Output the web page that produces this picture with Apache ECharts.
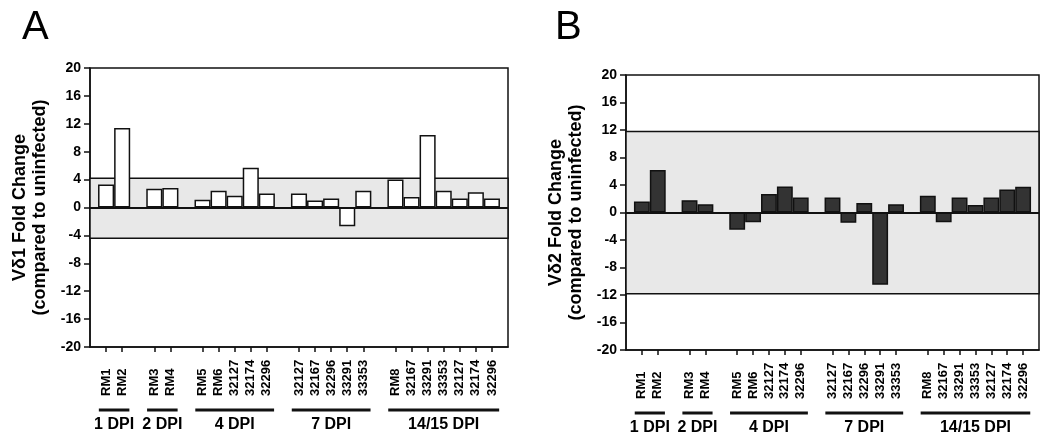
<!DOCTYPE html>
<html><head><meta charset="utf-8">
<script src="https://cdn.jsdelivr.net/npm/echarts@6/dist/echarts.min.js"></script>
<style>html,body{margin:0;padding:0;background:#fff}#c{width:1050px;height:441px}</style>
</head><body><div id="c"></div>
<script>
// ---- data ----
const groupLabels = ['1 DPI', '2 DPI', '4 DPI', '7 DPI', '14/15 DPI'];
const groupSamples = [
  ['RM1', 'RM2'],
  ['RM3', 'RM4'],
  ['RM5', 'RM6', '32127', '32174', '32296'],
  ['32127', '32167', '32296', '33291', '33353'],
  ['RM8', '32167', '33291', '33353', '32127', '32174', '32296']
];
const vd1Values = [3.3, 11.4, 2.7, 2.8, 1.1, 2.4, 1.7, 5.7, 2.0, 2.0, 1.0, 1.3, -2.7, 2.4, 4.0, 1.5, 10.4, 2.4, 1.3, 2.2, 1.3];
const vd2Values = [1.6, 6.2, 1.8, 1.2, -2.5, -1.4, 2.7, 3.8, 2.2, 2.2, -1.5, 1.4, -10.5, 1.2, 2.45, -1.4, 2.2, 1.1, 2.2, 3.35, 3.75];
const bandA = [-4.4, 4.2];
const bandB = [-11.8, 11.8];
const yMin = -20, yMax = 20, yStep = 4;
const panelLetters = ['A', 'B'];
const yNames = ['V\u03b41 Fold Change\n(compared to uninfected)', 'V\u03b42 Fold Change\n(compared to uninfected)'];

// ---- build categories (blank slots between groups and at both ends) ----
const categories = [''];
const groupRanges = [];
const slotIndex = [];
groupSamples.forEach((g, gi) => {
  if (gi > 0) categories.push('');
  const s = categories.length;
  g.forEach(n => { slotIndex.push(categories.length); categories.push(n); });
  groupRanges.push([s, categories.length - 1]);
});
categories.push('');
function pad(vals) {
  const d = categories.map(() => null);
  slotIndex.forEach((ci, k) => { d[ci] = vals[k]; });
  return d;
}

const FONT = '"Liberation Sans", Arial, Helvetica, sans-serif';
const INK = '#111';

function xAxis(g) {
  return {
    gridIndex: g, type: 'category', data: categories, boundaryGap: false, position: 'bottom',
    axisLine: { onZero: false, lineStyle: { color: INK, width: 1.5 } },
    axisTick: { show: true, interval: (i, v) => v !== '', length: 5, lineStyle: { color: INK, width: 1.5 } },
    axisLabel: { interval: 0, rotate: 90, align: 'left', margin: 49, fontSize: 13, fontWeight: 'bold', color: '#000', fontFamily: FONT },
    splitLine: { show: false }
  };
}
function yAxis(g) {
  return {
    gridIndex: g, type: 'value', min: yMin, max: yMax, interval: yStep,
    axisLine: { show: true, lineStyle: { color: INK, width: 1.5 } },
    axisTick: { show: true, length: 6, lineStyle: { color: INK, width: 1.5 } },
    axisLabel: { margin: 9, fontSize: 14, fontWeight: 'bold', color: '#000', fontFamily: FONT },
    splitLine: { show: false },
    name: yNames[g], nameLocation: 'middle', nameGap: 40,
    nameTextStyle: { fontSize: 18, fontWeight: 'bold', lineHeight: 20, color: '#000', fontFamily: FONT }
  };
}
function barSeries(g, vals, fill, band) {
  return {
    type: 'bar', xAxisIndex: g, yAxisIndex: g, data: pad(vals),
    barCategoryGap: '0%', barGap: '0%',
    itemStyle: { color: fill, borderColor: INK, borderWidth: 1.5 },
    emphasis: { disabled: true },
    markArea: {
      silent: true,
      itemStyle: { color: '#e8e8e8', borderColor: INK, borderWidth: 1.5 },
      label: { show: false },
      data: [[{ yAxis: band[0] }, { yAxis: band[1] }]]
    },
    markLine: {
      silent: true, symbol: ['none', 'none'],
      lineStyle: { color: INK, width: 2, type: 'solid' },
      label: { show: false },
      data: [{ yAxis: 0 }]
    }
  };
}
function groupSeries(g) {
  return {
    type: 'custom', xAxisIndex: g, yAxisIndex: g, clip: false, silent: true,
    encode: { x: [0, 1], y: 2 },
    data: groupRanges.map(r => [r[0], r[1], yMin]),
    renderItem: (params, api) => {
      const bw = api.size([1, 0])[0];
      const a = api.coord([api.value(0), yMin]);
      const b = api.coord([api.value(1), yMin]);
      const y = a[1] + 63;
      return {
        type: 'group', children: [
          { type: 'line', shape: { x1: a[0] - bw * 0.45, y1: y, x2: b[0] + bw * 0.45, y2: y }, style: { stroke: INK, lineWidth: 3 } },
          { type: 'text', x: (a[0] + b[0]) / 2, y: y + 15,
            style: { text: groupLabels[params.dataIndex], fill: '#000', font: 'bold 16px ' + FONT, textAlign: 'center', textVerticalAlign: 'middle' } }
        ]
      };
    }
  };
}

const chart = echarts.init(document.getElementById('c'), null, { renderer: 'canvas' });
chart.setOption({
  animation: false,
  backgroundColor: '#fff',
  title: [
    { text: panelLetters[0], left: 22, top: 8, padding: 0, textStyle: { fontSize: 40, fontWeight: 'normal', color: '#000', fontFamily: FONT } },
    { text: panelLetters[1], left: 555, top: 8, padding: 0, textStyle: { fontSize: 40, fontWeight: 'normal', color: '#000', fontFamily: FONT } }
  ],
  grid: [
    { left: 90, top: 68, width: 418, height: 279, show: true, borderColor: INK, borderWidth: 1.5, backgroundColor: 'transparent', outerBoundsMode: 'none' },
    { left: 626, top: 75, width: 413, height: 275, show: true, borderColor: INK, borderWidth: 1.5, backgroundColor: 'transparent', outerBoundsMode: 'none' }
  ],
  xAxis: [xAxis(0), xAxis(1)],
  yAxis: [yAxis(0), yAxis(1)],
  series: [
    barSeries(0, vd1Values, '#ffffff', bandA),
    barSeries(1, vd2Values, '#333333', bandB),
    groupSeries(0),
    groupSeries(1)
  ]
});
</script>
</body></html>
